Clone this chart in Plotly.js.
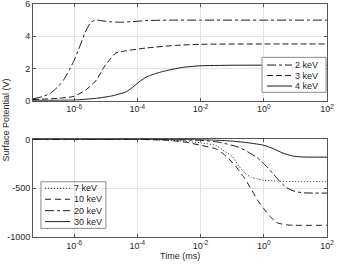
<!DOCTYPE html>
<html>
<head>
<meta charset="utf-8">
<script src="https://cdn.plot.ly/plotly-3.0.1.min.js"></script>
<style>html,body{margin:0;padding:0;background:#fff}#chart{width:338px;height:265px}</style>
</head>
<body>
<div id="chart"></div>
<script>
// ---- Top panel: low energies (V) ----
const t2keV = [5e-8, 1e-7, 1.8e-7, 3.2e-7, 4.7e-7, 7e-7, 1e-6, 1.4e-6, 2.2e-6, 3.2e-6, 4.5e-6, 6.3e-6, 1.3e-5, 2.8e-5, 6.3e-5, 1.9e-4, 1e-3, 1e-2, 1, 100];
const v2keV = [0.12, 0.25, 0.47, 0.9, 1.3, 1.9, 2.5, 3.2, 4.2, 4.8, 5.0, 4.98, 4.9, 4.87, 4.9, 4.97, 5.0, 5.0, 5.0, 5.0];
const t3keV = [5e-8, 3.2e-7, 1e-6, 2.5e-6, 5.1e-6, 8.3e-6, 1.33e-5, 2.1e-5, 4.5e-5, 1.9e-4, 1.6e-3, 1e-2, 1, 100];
const v3keV = [0.07, 0.15, 0.27, 0.71, 1.29, 2.0, 2.54, 2.96, 3.1, 3.27, 3.43, 3.5, 3.52, 3.52];
const t4keV = [5e-8, 1e-6, 5.1e-6, 1.7e-5, 4.5e-5, 7.1e-5, 1.15e-4, 1.9e-4, 2.4e-4, 6.3e-4, 2.6e-3, 8.7e-3, 0.1, 100];
const v4keV = [0.02, 0.04, 0.15, 0.31, 0.56, 0.83, 1.18, 1.46, 1.55, 1.81, 2.06, 2.16, 2.2, 2.2];
// ---- Bottom panel: high energies (V) ----
const t7keV = [5e-8, 1e-4, 1e-3, 3.2e-3, 1e-2, 3.2e-2, 5e-2, 0.1, 0.16, 0.25, 0.4, 0.63, 1, 3.2, 100];
const v7keV = [0, 0, -8, -20, -35, -65, -110, -175, -270, -345, -389, -405, -418, -430, -433];
const t10keV = [5e-8, 1e-4, 1e-3, 3.2e-3, 1e-2, 3.2e-2, 6.3e-2, 0.126, 0.25, 0.4, 0.63, 1, 1.6, 2.5, 5, 10, 100];
const v10keV = [0, 0, -10, -28, -60, -100, -170, -270, -400, -510, -620, -710, -790, -850, -875, -880, -880];
const t20keV = [5e-8, 1e-3, 1e-2, 3.6e-2, 0.16, 0.32, 0.63, 1.26, 2.5, 5, 10, 20, 100];
const v20keV = [0, -3, -10, -28, -80, -130, -190, -280, -390, -490, -535, -548, -550];
const t30keV = [5e-8, 1e-2, 3.2e-2, 0.1, 0.32, 1, 2, 4, 8, 16, 100];
const v30keV = [0, -3, -8, -18, -35, -60, -95, -140, -170, -180, -182];

const topNames = ['2 keV', '3 keV', '4 keV'];
const botNames = ['7 keV', '10 keV', '20 keV', '30 keV'];
const xTickVals = [1e-6, 1e-4, 1e-2, 1, 100];
const xTickText = ['10<sup>-6</sup>', '10<sup>-4</sup>', '10<sup>-2</sup>', '10<sup>0</sup>', '10<sup>2</sup>'];
const yTopTicks = [0, 2, 4, 6];
const yBotTicks = [-1000, -500, 0];
const yBotTickText = ['-1000', '-500', '0'];

const lineCol = '#1a1a1a';
const topDash = ['dashdot', '6px,3px', 'solid'];
const botDash = ['1px,2px', '6px,4px', 'dashdot', 'solid'];

function tr(x, y, name, dash, xa, ya) {
  return {x: x, y: y, name: name, type: 'scatter', mode: 'lines', xaxis: xa, yaxis: ya,
    showlegend: false, line: {color: lineCol, width: 1, dash: dash, shape: 'spline', smoothing: 0.6}};
}
const data = [
  tr(t2keV, v2keV, topNames[0], topDash[0], 'x', 'y'),
  tr(t3keV, v3keV, topNames[1], topDash[1], 'x', 'y'),
  tr(t4keV, v4keV, topNames[2], topDash[2], 'x', 'y'),
  tr(t7keV, v7keV, botNames[0], botDash[0], 'x2', 'y2'),
  tr(t10keV, v10keV, botNames[1], botDash[1], 'x2', 'y2'),
  tr(t20keV, v20keV, botNames[2], botDash[2], 'x2', 'y2'),
  tr(t30keV, v30keV, botNames[3], botDash[3], 'x2', 'y2')
];

const font = {family: 'Liberation Sans, Arial, sans-serif', size: 9, color: '#262626'};
const axBase = {
  showline: true, mirror: 'ticks', linecolor: '#555', linewidth: 1,
  ticks: 'inside', ticklen: 3, tickcolor: '#555',
  showgrid: true, gridcolor: '#e3e3e3', gridwidth: 1, zeroline: false,
  tickfont: font, ticklabeloverflow: 'allow'
};
const xAx = Object.assign({}, axBase, {type: 'log', range: [-7.3, 2], tickvals: xTickVals, ticktext: xTickText});

const shapes = [];
const annotations = [];
function legendBox(x0, x1, y0, y1, lx0, lx1, tx, rows, names, dashes, fill) {
  shapes.push({type: 'rect', xref: 'paper', yref: 'paper', x0: x0, x1: x1, y0: y0, y1: y1,
    line: {color: '#8a8a8a', width: 1}, fillcolor: fill, layer: 'above'});
  names.forEach(function (n, i) {
    shapes.push({type: 'line', xref: 'paper', yref: 'paper', x0: lx0, x1: lx1, y0: rows[i], y1: rows[i],
      line: {color: lineCol, width: 1, dash: dashes[i]}, layer: 'above'});
    annotations.push({text: n, xref: 'paper', yref: 'paper', x: tx, y: rows[i], xanchor: 'left',
      yanchor: 'middle', showarrow: false, font: font});
  });
}
legendBox(0.779, 0.997, 0.621, 0.771, 0.796, 0.881, 0.885, [0.738, 0.693, 0.648], topNames, topDash, '#fff');
legendBox(0.027, 0.248, 0.037, 0.237, 0.041, 0.126, 0.131, [0.209, 0.162, 0.113, 0.066], botNames, botDash, 'rgba(255,255,255,0)');

annotations.push({text: 'Surface Potential (V)', xref: 'paper', yref: 'paper', x: -0.095, y: 0.5,
  textangle: -90, showarrow: false, font: font, xanchor: 'center', yanchor: 'middle'});
annotations.push({text: 'Time (ms)', xref: 'paper', yref: 'paper', x: 0.5, y: -0.082,
  showarrow: false, font: font, xanchor: 'center', yanchor: 'middle'});

const layout = {
  width: 338, height: 265,
  margin: {l: 33, r: 11, t: 4, b: 28},
  paper_bgcolor: '#fff', plot_bgcolor: '#fff',
  font: font, showlegend: false,
  xaxis: Object.assign({}, xAx, {anchor: 'y'}),
  yaxis: Object.assign({}, axBase, {domain: [0.585, 1], range: [0, 6], tickvals: yTopTicks, anchor: 'x'}),
  xaxis2: Object.assign({}, xAx, {anchor: 'y2'}),
  yaxis2: Object.assign({}, axBase, {domain: [0, 0.419], range: [-1000, 0], tickvals: yBotTicks, ticktext: yBotTickText, anchor: 'x2'}),
  shapes: shapes, annotations: annotations
};

Plotly.newPlot('chart', data, layout, {displayModeBar: false, staticPlot: true});
</script>
</body>
</html>
